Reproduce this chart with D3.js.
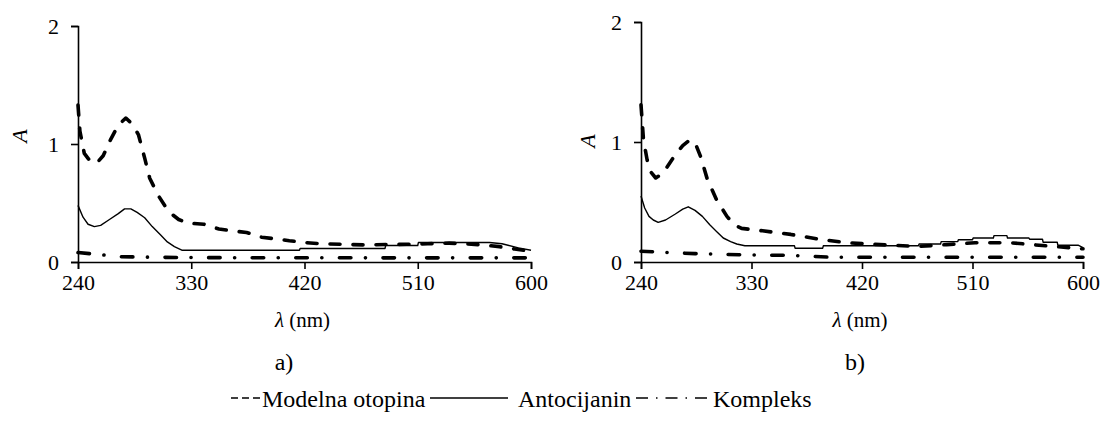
<!DOCTYPE html>
<html><head><meta charset="utf-8">
<script src="https://cdn.jsdelivr.net/npm/d3@7"></script>
<style>body{margin:0;background:#fff}svg{display:block}</style>
</head><body><svg id="c" width="1107" height="422"></svg>
<script>
const xTicks = [240, 330, 420, 510, 600];
const yTicks = [0, 1, 2];
const seriesNames = ["Modelna otopina", "Antocijanin", "Kompleks"];
const panelLabels = ["a)", "b)"];

const modelnaA = [[240,1.33],[241.5,1.11],[245,0.92],[250,0.85],[255,0.84],[260,0.9],[266,1.04],[272,1.16],[278,1.22],[283,1.17],[288,1.08],[293,0.88],[297,0.71],[304,0.56],[310,0.46],[314,0.41],[320,0.36],[327,0.33],[340,0.32],[352,0.28],[362,0.265],[374,0.25],[386,0.21],[398,0.195],[408,0.18],[420,0.165],[433,0.155],[450,0.15],[467,0.145],[485,0.148],[501,0.15],[518,0.155],[535,0.16],[548,0.155],[561,0.145],[575,0.13],[587,0.11],[600,0.09]];
const antoA = [[240,0.48],[244,0.38],[248,0.32],[253,0.30],[258,0.31],[265,0.36],[272,0.41],[277,0.45],[282,0.45],[287,0.42],[293,0.375],[299,0.30],[305.5,0.23],[311,0.17],[316.6,0.13],[322.5,0.10],[416,0.10],[416.5,0.115],[484,0.115],[484.5,0.14],[510,0.14],[510.5,0.165],[567,0.165],[577,0.155],[590,0.12],[600,0.10]];
const kompA = [[240,0.08],[250,0.07],[260,0.06],[274,0.045],[300,0.04],[340,0.037],[400,0.036],[500,0.035],[600,0.035]];

const modelnaB = [[240,1.31],[242,1.02],[245,0.85],[248,0.75],[252,0.70],[258,0.74],[267,0.88],[274,0.97],[280,1.02],[285,0.97],[288.5,0.88],[294,0.69],[301.5,0.52],[310,0.38],[316,0.31],[322,0.28],[339,0.26],[362,0.23],[385,0.19],[408,0.16],[425,0.15],[443,0.14],[466,0.13],[489,0.145],[512,0.16],[541,0.16],[570,0.135],[600,0.11]];
const antoB = [[240,0.55],[243,0.45],[246.5,0.38],[250,0.35],[254,0.33],[260,0.35],[268,0.40],[274,0.44],[278.5,0.46],[284,0.43],[290,0.38],[296,0.31],[301.5,0.255],[307,0.20],[313,0.17],[318,0.15],[324.6,0.135],[365,0.135],[365.5,0.115],[388,0.115],[388.5,0.135],[466,0.135],[466.5,0.15],[484,0.15],[484.5,0.17],[498,0.17],[498.5,0.185],[510,0.185],[510.5,0.2],[527,0.2],[527.5,0.22],[538,0.22],[538.5,0.2],[556,0.2],[556.5,0.19],[567,0.19],[567.5,0.165],[579,0.165],[579.5,0.14],[596,0.14],[600,0.12]];
const kompB = [[240,0.09],[260,0.08],[284,0.07],[320,0.06],[362,0.055],[394,0.04],[500,0.04],[600,0.04]];

const FONT = "'Liberation Serif', 'Times New Roman', Tinos, serif";
const panels = [
  {x0:78, x1:531, yTop:26, yBot:262, aX:20, aY:136, lblX:284, series:[modelnaA, antoA, kompA]},
  {x0:641, x1:1083, yTop:22, yBot:262, aX:588, aY:141, lblX:855, series:[modelnaB, antoB, kompB]}
];
const styles = [
  {w:3.6, dash:"10,13", cap:"round"},
  {w:1.4, dash:null, cap:"butt"},
  {w:3.6, dash:"11.5,14.5,0.1,17.5", cap:"round"}
];

const svg = d3.select("#c").style("font-family", FONT);
function txt(sel, size) {
  return sel.style("font-family", FONT).style("font-size", size + "px").attr("fill", "#000");
}
panels.forEach((p, i) => {
  const x = d3.scaleLinear().domain([240, 600]).range([p.x0, p.x1]);
  const y = d3.scaleLinear().domain([0, 2]).range([p.yBot, p.yTop]);
  const g = svg.append("g");
  const line = d3.line().x(d => x(d[0])).y(d => y(d[1]));
  p.series.forEach((s, k) => {
    g.append("path").datum(s).attr("d", line).attr("fill", "none").attr("stroke", "#000")
      .attr("stroke-width", styles[k].w).attr("stroke-linecap", styles[k].cap).attr("stroke-linejoin", "round")
      .attr("stroke-dasharray", styles[k].dash);
  });
  const xa = g.append("g").attr("transform", `translate(0,${p.yBot})`)
    .call(d3.axisBottom(x).tickValues(xTicks).tickFormat(d3.format("d")).tickSizeOuter(0).tickSize(7).tickPadding(5));
  const ya = g.append("g").attr("transform", `translate(${p.x0},0)`)
    .call(d3.axisLeft(y).tickValues(yTicks).tickFormat(d3.format("d")).tickSizeOuter(0).tickSize(7).tickPadding(12));
  [xa, ya].forEach(a => {
    a.attr("font-family", null).attr("font-size", null);
    a.selectAll("path,line").attr("stroke", "#000").attr("stroke-width", 1.6);
    txt(a.selectAll("text"), 22);
  });
  const xl = txt(svg.append("text").attr("x", (p.x0 + p.x1) / 2 - 2).attr("y", 327).attr("text-anchor", "middle"), 21);
  xl.append("tspan").style("font-style", "italic").text("λ");
  xl.append("tspan").text(" (nm)");
  txt(svg.append("text").attr("transform", `translate(${p.aX + 7},${p.aY}) rotate(-90)`).attr("text-anchor", "middle")
    .style("font-style", "italic"), 22).text("A");
  txt(svg.append("text").attr("x", p.lblX).attr("y", 370).attr("text-anchor", "middle"), 24).text(panelLabels[i]);
});

// legend
const ly = 398, lt = 407;
const legendItems = [
  {x1:231, x2:260, dash:"7,4", tx:262},
  {x1:430, x2:508, dash:null, tx:518},
  {x1:636, x2:707, dash:"12,8,1.5,8", tx:713}
];
legendItems.forEach((it, k) => {
  svg.append("line").attr("x1", it.x1).attr("x2", it.x2).attr("y1", ly).attr("y2", ly)
    .attr("stroke", "#000").attr("stroke-width", 1.4).attr("stroke-dasharray", it.dash);
  txt(svg.append("text").attr("x", it.tx).attr("y", lt), 24).text(seriesNames[k]);
});
</script></body></html>
